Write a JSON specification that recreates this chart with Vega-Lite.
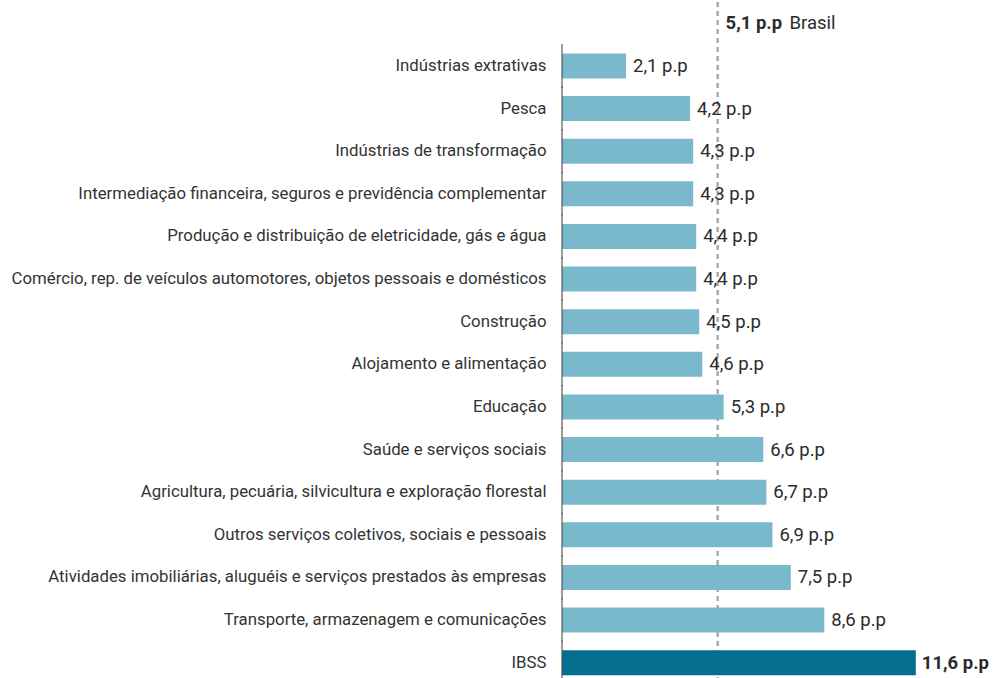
{
  "$schema": "https://vega.github.io/schema/vega-lite/v6.json",
  "autosize": {"type": "none"},
  "padding": {"left": 562, "top": 2, "right": 0, "bottom": 0},
  "width": 427,
  "height": 682,
  "background": "white",
  "config": {
    "view": {"stroke": null},
    "font": "Roboto, sans-serif"
  },
  "data": {
    "values": [
      {"cat": "ref", "value": 5.1, "label": "5,1 p.p", "kind": "ref"},
      {"cat": "Indústrias extrativas", "value": 2.1, "label": "2,1 p.p", "kind": "sector"},
      {"cat": "Pesca", "value": 4.2, "label": "4,2 p.p", "kind": "sector"},
      {"cat": "Indústrias de transformação", "value": 4.3, "label": "4,3 p.p", "kind": "sector"},
      {"cat": "Intermediação financeira, seguros e previdência complementar", "value": 4.3, "label": "4,3 p.p", "kind": "sector"},
      {"cat": "Produção e distribuição de eletricidade, gás e água", "value": 4.4, "label": "4,4 p.p", "kind": "sector"},
      {"cat": "Comércio, rep. de veículos automotores, objetos pessoais e domésticos", "value": 4.4, "label": "4,4 p.p", "kind": "sector"},
      {"cat": "Construção", "value": 4.5, "label": "4,5 p.p", "kind": "sector"},
      {"cat": "Alojamento e alimentação", "value": 4.6, "label": "4,6 p.p", "kind": "sector"},
      {"cat": "Educação", "value": 5.3, "label": "5,3 p.p", "kind": "sector"},
      {"cat": "Saúde e serviços sociais", "value": 6.6, "label": "6,6 p.p", "kind": "sector"},
      {"cat": "Agricultura, pecuária, silvicultura e exploração florestal", "value": 6.7, "label": "6,7 p.p", "kind": "sector"},
      {"cat": "Outros serviços coletivos, sociais e pessoais", "value": 6.9, "label": "6,9 p.p", "kind": "sector"},
      {"cat": "Atividades imobiliárias, aluguéis e serviços prestados às empresas", "value": 7.5, "label": "7,5 p.p", "kind": "sector"},
      {"cat": "Transporte, armazenagem e comunicações", "value": 8.6, "label": "8,6 p.p", "kind": "sector"},
      {"cat": "IBSS", "value": 11.6, "label": "11,6 p.p", "kind": "total"}
    ]
  },
  "encoding": {
    "y": {
      "field": "cat",
      "type": "nominal",
      "sort": null,
      "scale": {
        "domain": ["ref", "Indústrias extrativas", "Pesca", "Indústrias de transformação", "Intermediação financeira, seguros e previdência complementar", "Produção e distribuição de eletricidade, gás e água", "Comércio, rep. de veículos automotores, objetos pessoais e domésticos", "Construção", "Alojamento e alimentação", "Educação", "Saúde e serviços sociais", "Agricultura, pecuária, silvicultura e exploração florestal", "Outros serviços coletivos, sociais e pessoais", "Atividades imobiliárias, aluguéis e serviços prestados às empresas", "Transporte, armazenagem e comunicações", "IBSS"],
        "paddingInner": 0.413,
        "paddingOuter": 0.2065
      },
      "axis": {
        "title": null,
        "domain": false,
        "ticks": false,
        "labelPadding": 16,
        "labelFontSize": 16.8,
        "labelColor": "#333333",
        "labelLimit": 600,
        "labelFont": "Roboto, sans-serif",
        "labelExpr": "datum.value == 'ref' ? '' : datum.value"
      }
    }
  },
  "layer": [
    {
      "mark": {"type": "rule", "color": "#ababab", "strokeDash": [5, 4], "strokeWidth": 1.2},
      "encoding": {"x": {"datum": 5.1, "type": "quantitative", "scale": {"domain": [0, 14], "nice": false, "zero": true}, "axis": null}, "y": null}
    },
    {
      "transform": [{"filter": "datum.kind != 'ref'"}],
      "mark": {"type": "bar"},
      "encoding": {
        "x": {"field": "value", "type": "quantitative", "scale": {"domain": [0, 14], "nice": false}, "axis": null},
        "color": {"field": "kind", "type": "nominal", "scale": {"domain": ["sector", "total"], "range": ["#7ab8cb", "#046f8d"]}, "legend": null}
      }
    },
    {
      "transform": [{"filter": "datum.kind == 'sector'"}],
      "mark": {"type": "text", "align": "left", "baseline": "middle", "dx": 7, "fontSize": 18.5, "color": "#2b2b2b"},
      "encoding": {
        "x": {"field": "value", "type": "quantitative"},
        "text": {"field": "label"}
      }
    },
    {
      "transform": [{"filter": "datum.kind == 'total'"}],
      "mark": {"type": "text", "align": "left", "baseline": "middle", "dx": 6, "fontSize": 18.5, "fontWeight": "bold", "color": "#2b2b2b"},
      "encoding": {
        "x": {"field": "value", "type": "quantitative"},
        "text": {"field": "label"}
      }
    },
    {
      "transform": [{"filter": "datum.kind != 'ref'"}],
      "mark": {"type": "tick", "orient": "vertical", "size": 44, "thickness": 1.5, "color": "#444444"},
      "encoding": {"x": {"datum": 0, "type": "quantitative"}}
    },
    {
      "transform": [{"filter": "datum.kind == 'ref'"}],
      "mark": {"type": "text", "align": "left", "baseline": "middle", "dx": 8, "fontSize": 18.5, "fontWeight": "bold", "color": "#2b2b2b"},
      "encoding": {"x": {"field": "value", "type": "quantitative"}, "text": {"field": "label"}}
    },
    {
      "transform": [{"filter": "datum.kind == 'ref'"}],
      "mark": {"type": "text", "align": "left", "baseline": "middle", "dx": 72, "fontSize": 18.5, "color": "#2b2b2b"},
      "encoding": {"x": {"field": "value", "type": "quantitative"}, "text": {"value": "Brasil"}}
    }
  ]
}
